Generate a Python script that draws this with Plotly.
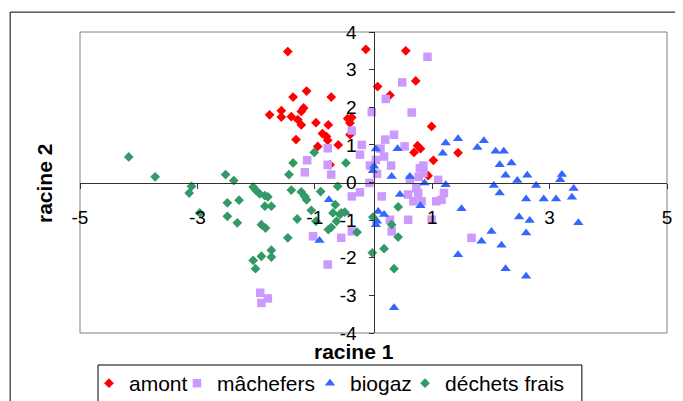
import plotly.graph_objects as go

# ---- data ----
amont_x = [-1.46, -0.13, 0.55, 0.72, 0.07, 0.28, -1.14, -1.37, -0.72, -1.77, -1.57, -1.57, -1.40,
           -1.29, -1.23, -1.19, -1.23, -0.98, -0.77, -0.87, -0.80, -0.78, -1.32, -0.95, -0.60,
           -0.44, -0.37, -0.40, -0.40, -0.74, 0.99, 0.69, 0.75, 0.80, 1.02, 0.93, 1.44]
amont_y = [3.48, 3.54, 3.50, 2.70, 2.55, 2.32, 2.43, 2.27, 2.27, 1.80, 1.91, 1.74, 1.75,
           1.67, 1.89, 1.98, 1.53, 1.59, 1.53, 1.30, 1.22, 1.12, 1.14, 0.96, 1.00,
           1.70, 1.73, 1.58, 1.27, 0.47, 1.49, 0.80, 0.98, 0.90, 0.59, 0.18, 0.79]

mach_x = [0.92, 0.49, 0.21, -0.03, 0.65, -0.37, -0.20, -0.23, -0.78, -0.78, -0.72, -1.13, -1.17,
          0.20, 0.35, 0.18, 0.04, -0.06, 0.06, 0.53, 0.79, 0.77, 1.10, 0.62, -0.07, -0.23,
          -0.37, 0.14, 0.59, 0.68, 0.82, 0.76, 0.73, 1.07, 1.16, 1.20, 0.59, 0.99, 0.28, 0.31,
          -0.37, -0.55, -1.03, -0.78, 1.67, -1.93, -1.80, -1.91, 0.85, 0.85, 0.30, 0.12]
mach_y = [3.34, 2.66, 2.22, 1.87, 1.86, 1.38, 1.00, 0.74, 0.91, 0.47, 0.21, 0.59, 0.27,
          1.14, 1.27, 0.69, 0.60, 0.45, 0.23, 0.96, 0.38, 0.15, 0.07, 0.07, -0.01, -0.26,
          -0.37, -0.37, -0.32, -0.50, -0.50, -0.28, -0.15, -0.50, -0.46, -0.28, -0.99, -0.99, -0.99, -1.30,
          -1.30, -1.47, -1.43, -2.18, -1.47, -2.93, -3.08, -3.20, 0.45, 0.25, 0.45, 0.90]

bio_x = [1.23, 1.44, 1.18, 1.77, 1.88, 2.08, 2.22, 2.15, 2.35, 2.25, 2.45, 2.62, 2.77, 2.05,
         2.15, 2.60, 2.90, 3.11, 3.21, 3.18, 3.41, 3.38, 3.49, 1.23, 1.50, 2.48, 2.66, 2.60,
         2.01, 1.84, 2.18, 1.44, 2.25, 2.60, 0.41, 0.04, 0.01, -0.01, 0.31, 0.62, 0.87, 0.45,
         0.80, -0.76, 0.08, 0.18, 0.04, 0.06, -0.92, 0.35, -0.47]
bio_y = [1.05, 1.16, 0.78, 0.93, 1.11, 0.83, 0.83, 0.47, 0.52, 0.19, 0.05, 0.19, -0.08, -0.08,
         -0.28, -0.44, -0.44, -0.44, 0.21, 0.07, -0.16, -0.39, -1.07, -0.06, -0.70, -0.92, -1.01, -1.34,
         -1.30, -1.56, -1.67, -1.92, -2.29, -2.49, 0.90, 0.89, 0.43, 0.31, 0.16, 0.16, -0.01, -0.32,
         -0.62, -0.46, -0.77, -0.85, -1.12, -1.03, -1.54, -3.33, -0.81]

dech_x = [-4.17, -3.72, -3.10, -3.14, -2.96, -2.52, -2.38, -2.49, -2.29, -2.49, -2.32, -2.05, -2.00,
          -1.94, -1.85, -1.80, -1.85, -1.74, -1.91, -1.84, -2.05, -2.01, -1.91, -1.74, -1.74, -1.44,
          -1.40, -1.46, -1.01, -1.37, -0.47, -1.23, -1.17, -1.14, -0.90, -0.61, -0.65, -1.06, -0.98,
          -1.30, -0.77, -0.72, -0.63, -0.57, -0.49, -0.28, -0.01, -0.02, 0.18, 0.35, 0.31, 0.42,
          0.42, -0.69, -0.55]
dech_y = [0.68, 0.15, -0.10, -0.28, -0.81, 0.21, 0.05, -0.54, -0.47, -0.90, -1.07, -0.12, -0.21,
          -0.30, -0.35, -0.38, -0.63, -0.63, -1.12, -1.21, -2.07, -2.29, -1.96, -1.80, -1.98, 0.21,
          -0.20, -1.47, 0.80, 0.52, 0.52, -0.25, -0.37, -0.46, -0.24, -0.10, -0.59, -0.74, -1.03,
          -0.97, -1.25, -1.19, -1.03, -0.85, -0.79, -1.32, -0.92, -1.87, -1.76, -2.29, -1.12, -1.45,
          -0.65, -0.81, -0.81]

series_names = ["amont", "mâchefers", "biogaz", "déchets frais"]
x_ticks = [-5, -3, -1, 1, 3, 5]
y_ticks = [-4, -3, -2, -1, 0, 1, 2, 3, 4]

FONT = "Liberation Sans, Arial, sans-serif"

# legend entry left edges (paper fraction of plot width), one legend per series
legend_x = [0.0153, 0.1652, 0.3918, 0.5537]
legend_y = -0.0997

fig = go.Figure()
fig.add_trace(go.Scatter(x=amont_x, y=amont_y, mode="markers", name=series_names[0],
                         legend="legend",
                         marker=dict(symbol="diamond", size=7.5, color="#FF0000")))
fig.add_trace(go.Scatter(x=mach_x, y=mach_y, mode="markers", name=series_names[1],
                         legend="legend2",
                         marker=dict(symbol="square", size=8.5, color="#CC99FF")))
fig.add_trace(go.Scatter(x=bio_x, y=bio_y, mode="markers", name=series_names[2],
                         legend="legend3",
                         marker=dict(symbol="triangle-up", size=9, color="#3366FF")))
fig.add_trace(go.Scatter(x=dech_x, y=dech_y, mode="markers", name=series_names[3],
                         legend="legend4",
                         marker=dict(symbol="diamond", size=7.5, color="#339966")))

def leg(xpos):
    return dict(orientation="h", x=xpos, xanchor="left", y=legend_y, yanchor="top",
                bgcolor="rgba(0,0,0,0)", borderwidth=0, itemwidth=30,
                font=dict(size=21, family=FONT, color="black"))

fig.update_layout(
    width=683, height=401,
    margin=dict(l=72, r=24, t=24, b=76, autoexpand=False),
    paper_bgcolor="white", plot_bgcolor="white",
    font=dict(family=FONT, size=19, color="black"),
    showlegend=True,
    legend=leg(legend_x[0]), legend2=leg(legend_x[1]),
    legend3=leg(legend_x[2]), legend4=leg(legend_x[3]),
    xaxis=dict(range=[-5, 5], tickvals=x_ticks, ticktext=[str(v) for v in x_ticks],
               anchor="free", position=0.5, showline=True, linecolor="#333333", linewidth=1,
               ticks="outside", ticklen=5, tickcolor="#333333", showgrid=False, zeroline=False,
               ticklabelstandoff=13, tickfont=dict(size=19, family=FONT)),
    yaxis=dict(range=[-4, 4], tickvals=y_ticks, ticktext=[str(v) for v in y_ticks],
               anchor="free", position=0.5, showline=True, linecolor="#333333", linewidth=1,
               ticks="outside", ticklen=5, tickcolor="#333333", showgrid=False, zeroline=False,
               ticklabelstandoff=8, tickfont=dict(size=19, family=FONT)),
    shapes=[
        dict(type="rect", xref="paper", yref="paper", x0=0, x1=1, y0=0, y1=1,
             line=dict(color="#808080", width=1), layer="below"),
        dict(type="rect", xref="paper", yref="paper", x0=-0.119, x1=1.05, y0=-0.3, y1=1.066,
             line=dict(color="black", width=1), layer="below"),
        dict(type="rect", xref="paper", yref="paper", x0=0.0307, x1=0.855, y0=-0.256, y1=-0.1063,
             line=dict(color="black", width=1), layer="below"),
    ],
    annotations=[
        dict(text="<b>racine 1</b>", xref="paper", yref="paper", x=0.467, y=-0.06,
             xanchor="center", yanchor="middle",
             showarrow=False, font=dict(size=21, family=FONT)),
        dict(text="<b>racine 2</b>", xref="paper", yref="paper", x=-0.0613, y=0.495,
             xanchor="center", yanchor="middle",
             showarrow=False, textangle=-90, font=dict(size=21, family=FONT)),
    ],
)

fig.write_html("out.html")
